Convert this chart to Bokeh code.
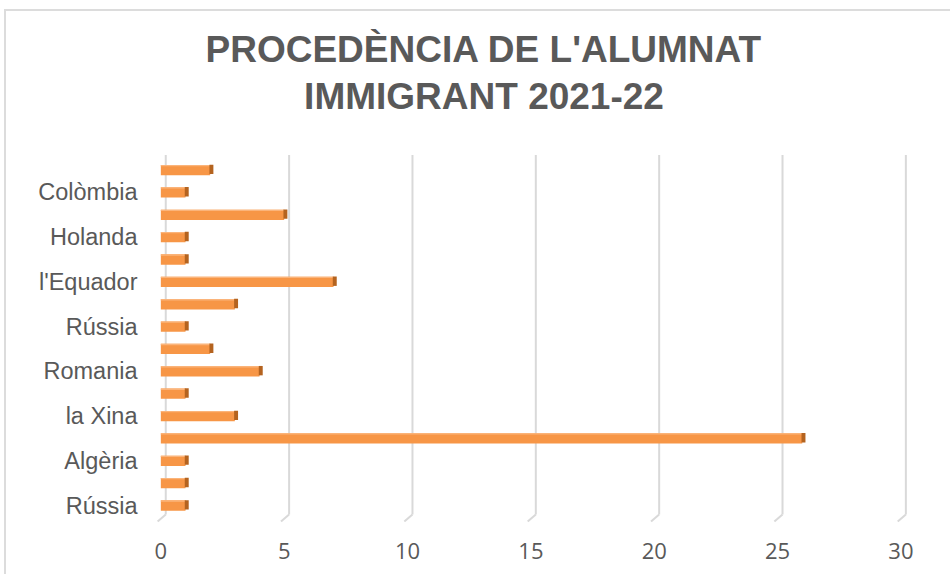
from bokeh.plotting import figure
from bokeh.models import Range1d, FixedTicker, Label
from bokeh.embed import file_html
from bokeh.resources import INLINE

# Data, bottom to top (only every other category label is shown in the chart)
categories = ["Rússia", "", "Algèria", "", "la Xina", "", "Romania", "",
              "Rússia", "", "l'Equador", "", "Holanda", "", "Colòmbia", ""]
values = [1, 1, 1, 26, 3, 1, 4, 2, 1, 3, 7, 1, 1, 5, 1, 2]
x_ticks = [0, 5, 10, 15, 20, 25, 30]
title_lines = ["PROCEDÈNCIA DE L'ALUMNAT", "IMMIGRANT 2021-22"]

positions = list(range(len(categories)))
shown = [i for i, c in enumerate(categories) if c]

GREY = "#595959"
ORANGE = "#F79646"
ORANGE_DARK = "#B4631F"
ORANGE_LIGHT = "#FBB47A"
GRID = "#D9D9D9"

p = figure(width=946, height=565, output_backend="svg", toolbar_location=None,
           x_range=Range1d(-0.5, 30.55), y_range=Range1d(-0.76, 22.09),
           min_border_left=142, min_border_right=38, min_border_top=0,
           min_border_bottom=54, margin=(9, 0, 0, 4))
p.styles = {"border-top": "2px solid #DCDCDC", "border-left": "2px solid #DCDCDC"}
p.outline_line_color = None
p.xgrid.visible = False
p.ygrid.visible = False
p.background_fill_color = "white"
p.border_fill_color = "white"

# back-wall gridlines (3D look: shifted a bit right, with a slanted floor edge)
wall_shift = 0.2
grid_top = 15.67
grid_x = [t + wall_shift for t in x_ticks]
p.segment(x0=grid_x, y0=[-0.40] * len(x_ticks), x1=grid_x, y1=[grid_top] * len(x_ticks),
          line_color=GRID, line_width=2)
p.segment(x0=grid_x, y0=[-0.40] * len(x_ticks), x1=[t - 0.13 for t in x_ticks],
          y1=[-0.72] * len(x_ticks), line_color=GRID, line_width=2)

# bars: front face, top highlight and dark right side
h = 0.46
p.hbar(y=positions, left=0, right=values, height=h, fill_color=ORANGE,
       line_color=None)
p.hbar(y=[y + h / 2 - 0.03 for y in positions], left=0, right=values, height=0.06,
       fill_color=ORANGE_LIGHT, line_color=None)
p.hbar(y=[y + 0.03 for y in positions], left=[v - 0.03 for v in values],
       right=[v + 0.13 for v in values], height=h - 0.04,
       fill_color=ORANGE_DARK, line_color=None)

# axes
p.xaxis.ticker = FixedTicker(ticks=x_ticks)
p.xaxis.axis_line_color = None
p.xaxis.major_tick_line_color = None
p.xaxis.minor_tick_line_color = None
p.xaxis.major_label_standoff = 14
p.xaxis.major_label_text_font = "Open Sans"
p.xaxis.major_label_text_font_size = "22px"
p.xaxis.major_label_text_color = GREY

p.yaxis.ticker = FixedTicker(ticks=shown)
p.yaxis.major_label_overrides = {i: categories[i] for i in shown}
p.yaxis.axis_line_color = None
p.yaxis.major_tick_line_color = None
p.yaxis.minor_tick_line_color = None
p.yaxis.major_label_standoff = 5
p.yaxis.major_label_text_font = "Liberation Sans"
p.yaxis.major_label_text_font_size = "23.5px"
p.yaxis.major_label_text_color = GREY

# two-line title
for txt, yy in zip(title_lines, [20.39, 18.28]):
    p.add_layout(Label(x=13.1, y=yy, text=txt, text_align="center",
                       text_baseline="middle", text_font="Liberation Sans",
                       text_font_style="bold", text_font_size="37px",
                       text_color=GREY))

open("out.html", "w").write(file_html(p, INLINE))
